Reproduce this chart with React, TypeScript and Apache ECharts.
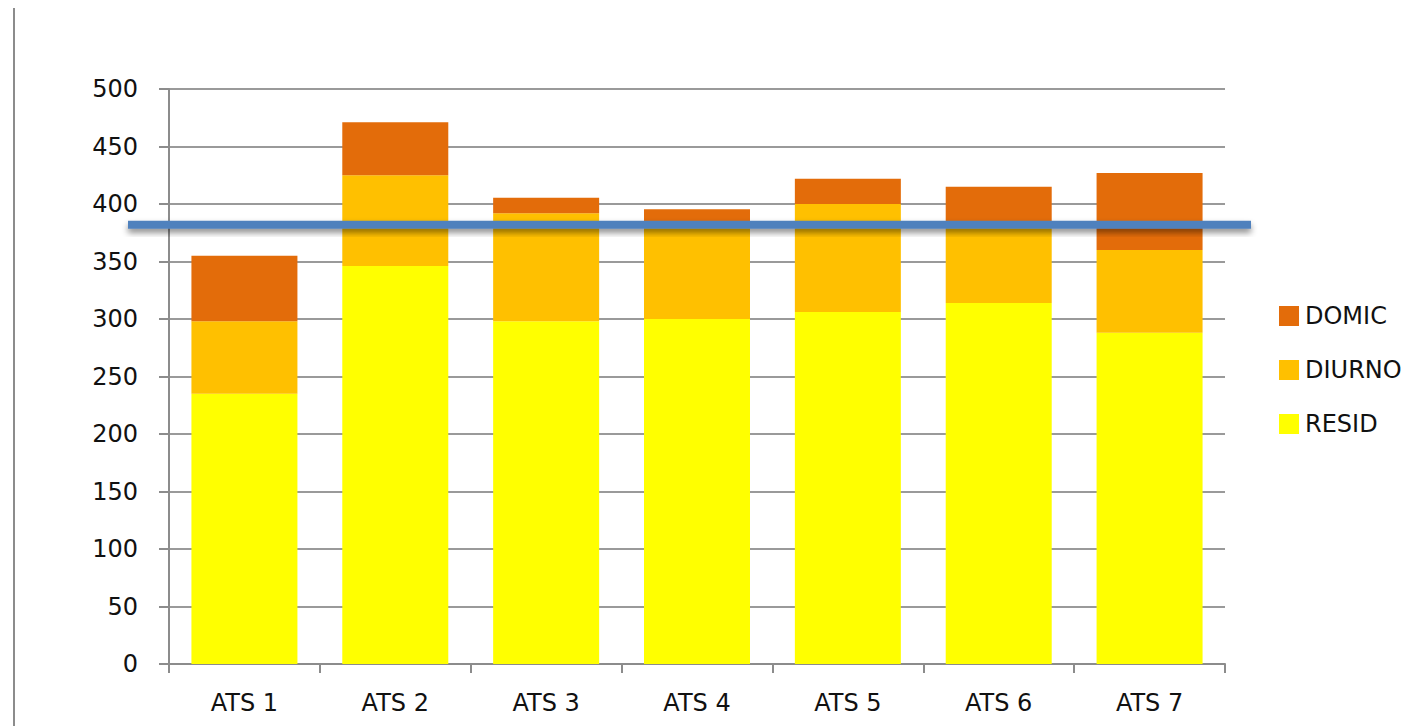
import React, { useEffect, useRef } from "react";
import * as echarts from "echarts";

const categories = ["ATS 1", "ATS 2", "ATS 3", "ATS 4", "ATS 5", "ATS 6", "ATS 7"];
const resid = [235, 346, 298, 300, 306, 314, 288];
const diurno = [63, 79, 94, 85, 94, 68, 72];
const domic = [57, 46, 13.5, 10.5, 22, 33, 67];
const threshold = 382;
const yTicks = { min: 0, max: 500, interval: 50 };

const FONT = "DejaVu Sans";
const GRID = { left: 169, right: 199, top: 89, bottom: 62 };

export default function App() {
  const ref = useRef<HTMLDivElement>(null);
  useEffect(() => {
    if (!ref.current) return;
    const chart = echarts.init(ref.current, null, { renderer: "svg" });
    chart.setOption({
      animation: false,
      backgroundColor: "#ffffff",
      textStyle: { fontFamily: FONT },
      grid: { ...GRID, containLabel: false },
      legend: {
        orient: "vertical",
        left: 1279,
        top: 304,
        padding: 0,
        itemWidth: 20,
        itemHeight: 20,
        itemGap: 30,
        icon: "rect",
        data: ["DOMIC", "DIURNO", "RESID"],
        textStyle: { fontFamily: FONT, fontSize: 24, color: "#111111", padding: [0, 0, 0, 1] },
      },
      xAxis: {
        type: "category",
        data: categories,
        axisLine: { lineStyle: { color: "#8c8c8c", width: 2 } },
        axisTick: { show: true, length: 9, lineStyle: { color: "#8c8c8c", width: 2 } },
        axisLabel: { fontFamily: FONT, fontSize: 24, color: "#111111", margin: 27 },
      },
      yAxis: {
        type: "value",
        min: yTicks.min,
        max: yTicks.max,
        interval: yTicks.interval,
        axisLine: { show: true, lineStyle: { color: "#8c8c8c", width: 2 } },
        axisTick: { show: true, inside: false, length: 10, lineStyle: { color: "#8c8c8c", width: 2 } },
        splitLine: { show: true, lineStyle: { color: "#9a9a9a", width: 2 } },
        axisLabel: { fontFamily: FONT, fontSize: 24, color: "#111111", margin: 31 },
      },
      series: [
        {
          name: "RESID",
          type: "bar",
          stack: "total",
          data: resid,
          barWidth: 106,
          itemStyle: { color: "#FFFF00" },
        },
        {
          name: "DIURNO",
          type: "bar",
          stack: "total",
          data: diurno,
          barWidth: 106,
          itemStyle: { color: "#FFC000" },
        },
        {
          name: "DOMIC",
          type: "bar",
          stack: "total",
          data: domic,
          barWidth: 106,
          itemStyle: { color: "#E36C0A" },
        },
      ],
    });
    let y: number = NaN;
    try {
      const p = chart.convertToPixel({ gridIndex: 0 }, [0, threshold]) as any;
      if (Array.isArray(p)) y = p[1];
    } catch (e) {
      y = NaN;
    }
    if (!isFinite(y)) {
      const h = 726 - GRID.top - GRID.bottom;
      y = GRID.top + h * (1 - (threshold - yTicks.min) / (yTicks.max - yTicks.min));
    }
    chart.setOption({
      graphic: [
        {
          type: "line",
          shape: { x1: 14, y1: 8, x2: 14, y2: 726 },
          style: { stroke: "#8c8c8c", lineWidth: 2 },
          silent: true,
        },
        {
          type: "rect",
          shape: { x: 128, y: y - 4, width: 1123, height: 8 },
          style: {
            fill: "#4F81BD",
            shadowBlur: 6,
            shadowColor: "rgba(0,0,0,0.45)",
            shadowOffsetY: 4,
          },
          z: 100,
          silent: true,
        },
      ],
    });
    return () => chart.dispose();
  }, []);
  return (
    <div
      ref={ref}
      style={{ position: "fixed", left: 0, top: 0, width: 1424, height: 726 }}
    />
  );
}
